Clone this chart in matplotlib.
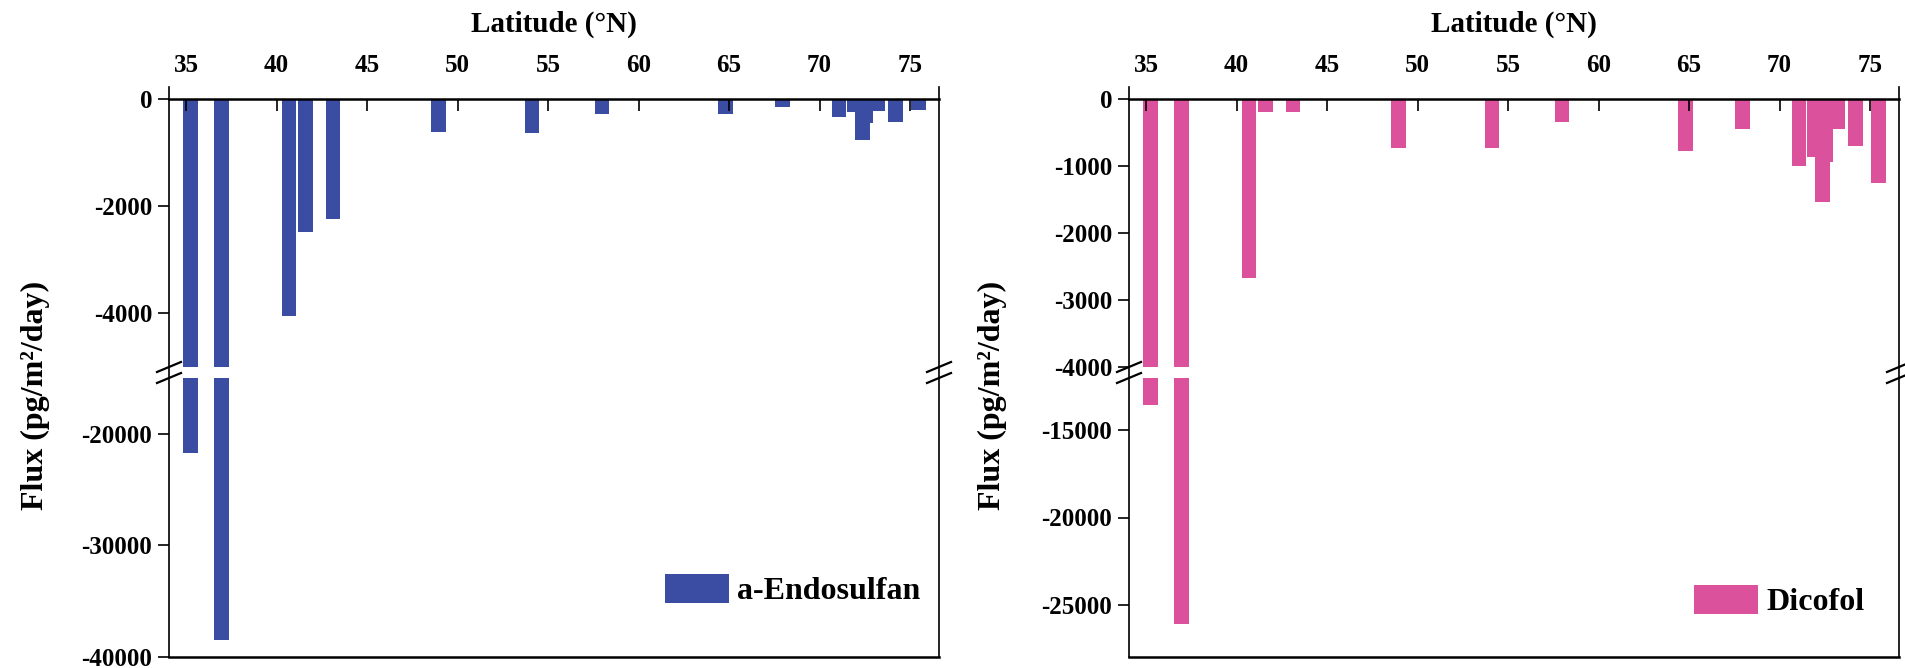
import matplotlib
matplotlib.use("Agg")
import matplotlib.pyplot as plt

# station latitudes (deg N) and air-sea exchange flux (pg/m2/day)
latitude = [35.23, 36.95, 40.69, 41.6, 43.1, 48.95, 54.1, 57.99, 64.8, 67.96,
            71.07, 71.9, 72.38, 72.58, 73.2, 74.2, 75.46]
endosulfan = [-21700, -38500, -4050, -2480, -2250, -620, -630, -285, -280, -155,
              -343, -250, -775, -453, -236, -434, -218]
dicofol = [-13550, -26100, -2670, -190, -190, -730, -730, -340, -770, -444,
           -1000, -872, -1535, -947, -453, -705, -1250]
lat_ticks = [35, 40, 45, 50, 55, 60, 65, 70, 75]

plt.rcParams['font.family'] = ['Liberation Serif', 'DejaVu Serif']
plt.rcParams['font.weight'] = 'bold'
plt.rcParams['axes.unicode_minus'] = False

W, H = 1905, 668
fig = plt.figure(figsize=(W / 100, H / 100), dpi=100)


def box(x0, y0, x1, y1):
    # pixel box (top-left origin) -> figure fraction rect
    return [x0 / W, 1 - y1 / H, (x1 - x0) / W, (y1 - y0) / H]


panels = [
    dict(vals=endosulfan, color='#3B4DA3', name='a-Endosulfan', x0=169, x1=939,
         up_lim=(-5000, 220), up_ticks=[0, -2000, -4000],
         lo_lim=(-40000, -15000), lo_ticks=[-20000, -30000, -40000],
         leg=(0.976, 0.24), ylab_x=35),
    dict(vals=dicofol, color='#DC519B', name='Dicofol', x0=1129, x1=1899,
         up_lim=(-4000, 180), up_ticks=[0, -1000, -2000, -3000, -4000],
         lo_lim=(-28000, -12000), lo_ticks=[-15000, -20000, -25000],
         leg=(0.955, 0.2), ylab_x=992),
]

xlim = (34.05, 76.6)
lw_spine = 1.2
tick_fs = 18

for p in panels:
    ax_up = fig.add_axes(box(p['x0'], 87, p['x1'], 367))
    ax_lo = fig.add_axes(box(p['x0'], 378, p['x1'], 657))

    for ax in (ax_up, ax_lo):
        ax.bar(latitude, p['vals'], width=0.8, color=p['color'], zorder=1)
        ax.set_xlim(*xlim)
        for s in ax.spines.values():
            s.set_linewidth(lw_spine)
        ax.tick_params(axis='y', direction='out', length=8, width=1.2,
                       pad=4, labelsize=tick_fs, right=False)

    # upper part: zero line carries the latitude ticks, labels on top
    ax_up.set_ylim(*p['up_lim'])
    ax_up.set_yticks(p['up_ticks'])
    ax_up.spines['top'].set_visible(False)
    ax_up.spines['bottom'].set_position(('data', 0))
    ax_up.spines['bottom'].set_linewidth(1.8)
    ax_up.set_xticks(lat_ticks)
    ax_up.tick_params(axis='x', bottom=True, top=False, labelbottom=False,
                      labeltop=True, direction='out', length=8.5, width=1.2,
                      pad=-1, labelsize=tick_fs)

    # lower part
    ax_lo.set_ylim(*p['lo_lim'])
    ax_lo.set_yticks(p['lo_ticks'])
    ax_lo.spines['top'].set_visible(False)
    ax_lo.spines['bottom'].set_linewidth(1.8)
    ax_lo.set_xticks([])

    # axis break marks
    w = p['x1'] - p['x0']
    dx, dy = 12 / w, 5 / 280
    gap = 11 / 280
    for xs in (0, 1):
        ax_up.plot([xs, xs], [0, -gap], transform=ax_up.transAxes,
                   color='k', lw=lw_spine, clip_on=False)
        ax_up.plot([xs - dx, xs + dx], [-dy, dy], transform=ax_up.transAxes,
                   color='k', lw=1.6, clip_on=False)
        ax_lo.plot([xs - dx, xs + dx], [1 - dy, 1 + dy], transform=ax_lo.transAxes,
                   color='k', lw=1.6, clip_on=False)

    bars = ax_lo.containers[0]
    ax_lo.legend([bars], [p['name']], loc='center right', bbox_to_anchor=p['leg'],
                 frameon=False, fontsize=23, handlelength=2.0, handleheight=1.0,
                 handletextpad=0.25, borderpad=0, borderaxespad=0)

    fig.text((p['x0'] + p['x1']) / 2 / W, 1 - 24 / H, 'Latitude (°N)',
             ha='center', va='center', fontsize=21, fontweight='bold')
    fig.text(p['ylab_x'] / W, 1 - 395 / H, 'Flux (pg/m²/day)', rotation=90,
             ha='center', va='center', fontsize=23, fontweight='bold')

fig.savefig('out.png', dpi=100)
